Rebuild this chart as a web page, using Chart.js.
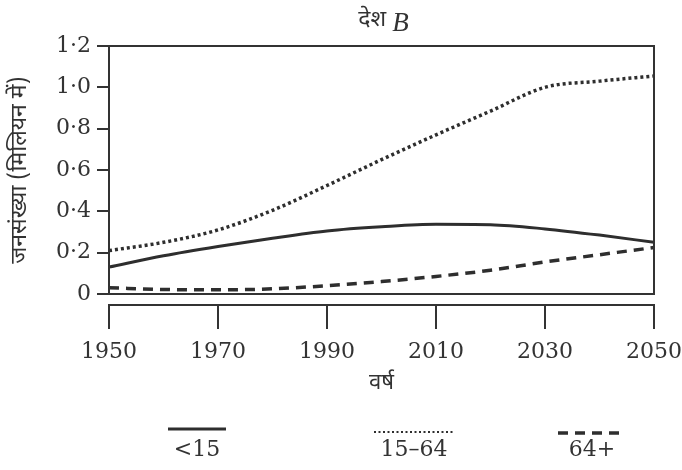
<!DOCTYPE html>
<html>
<head>
<meta charset="utf-8">
<script src="https://cdn.jsdelivr.net/npm/chart.js@4/dist/chart.umd.min.js"></script>
<style>
  html, body { margin: 0; padding: 0; background: #ffffff; }
  #wrap { width: 682px; height: 470px; position: relative; }
</style>
</head>
<body>
<div id="wrap"><canvas id="c"></canvas></div>
<script>
// ---- data ----
const years = [1950, 1960, 1970, 1980, 1990, 2000, 2010, 2020, 2030, 2040, 2050];
const under15 = [0.13, 0.185, 0.23, 0.27, 0.305, 0.325, 0.337, 0.335, 0.315, 0.285, 0.25];
const age15to64 = [0.21, 0.25, 0.31, 0.405, 0.525, 0.65, 0.77, 0.885, 1.0, 1.03, 1.055];
const age64plus = [0.03, 0.022, 0.02, 0.025, 0.04, 0.06, 0.085, 0.115, 0.155, 0.19, 0.225];
const seriesNames = ['<15', '15–64', '64+'];
const xTickValues = [1950, 1970, 1990, 2010, 2030, 2050];
const yTickLabels = ['0', '0·2', '0·4', '0·6', '0·8', '1·0', '1·2'];
const titleMain = 'देश';
const titleLetter = 'B';
const yTitle = 'जनसंख्या (मिलियन में)';
const xTitle = 'वर्ष';

const INK = '#333333';
const DEV = "'Noto Sans Devanagari', 'Noto Sans', 'FreeSans', sans-serif";
const SERIF = "'DejaVu Serif', serif";

function pts(vals) { return years.map((y, i) => ({ x: y, y: vals[i] })); }

const decor = {
  id: 'decor',
  afterDraw(chart) {
    const ctx = chart.ctx;
    const a = chart.chartArea;
    const xs = chart.scales.x;
    ctx.save();
    // plot frame
    ctx.strokeStyle = INK;
    ctx.lineWidth = 2;
    ctx.strokeRect(a.left, a.top, a.right - a.left, a.bottom - a.top);
    // detached x-axis bracket
    const y0 = a.bottom + 11;
    ctx.beginPath();
    ctx.moveTo(xs.getPixelForValue(xTickValues[0]) - 1, y0);
    ctx.lineTo(xs.getPixelForValue(xTickValues[xTickValues.length - 1]) + 1, y0);
    xTickValues.forEach(v => {
      const px = xs.getPixelForValue(v);
      ctx.moveTo(px, y0);
      ctx.lineTo(px, y0 + 24);
    });
    ctx.stroke();
    // title
    ctx.fillStyle = INK;
    ctx.textBaseline = 'middle';
    const fDev = "23px " + DEV;
    const fB = "italic 27px 'Liberation Serif', serif";
    ctx.font = fDev;
    const w1 = ctx.measureText(titleMain + ' ').width;
    ctx.font = fB;
    const w2 = ctx.measureText(titleLetter).width;
    const cx = (a.left + a.right) / 2 + 2;
    let sx = cx - (w1 + w2) / 2;
    ctx.textAlign = 'left';
    ctx.font = fDev;
    ctx.fillText(titleMain + ' ', sx, 22);
    ctx.font = fB;
    ctx.fillText(titleLetter, sx + w1, 24);
    // legend
    const items = [
      { cx: 197, ly: 429, len: 58 },
      { cx: 414, ly: 432, len: 80 },
      { cx: 592, ly: 433, len: 68 }
    ];
    chart.data.datasets.forEach((ds, i) => {
      const it = items[i];
      ctx.beginPath();
      ctx.strokeStyle = ds.borderColor;
      ctx.lineWidth = i === 1 ? 2 : ds.borderWidth;
      ctx.setLineDash(i === 1 ? [2, 2.5] : (ds.borderDash || []));
      ctx.moveTo(it.cx - it.len / 2, it.ly);
      ctx.lineTo(it.cx + it.len / 2, it.ly);
      ctx.stroke();
      ctx.setLineDash([]);
      ctx.fillStyle = INK;
      ctx.textAlign = 'center';
      ctx.font = "22px " + SERIF;
      ctx.fillText(ds.label, it.cx, 450);
    });
    ctx.restore();
  }
};

new Chart(document.getElementById('c'), {
  type: 'line',
  data: {
    datasets: [
      { label: seriesNames[0], data: pts(under15), borderColor: '#2e2e2e', borderWidth: 3, pointRadius: 0, cubicInterpolationMode: 'monotone', fill: false },
      { label: seriesNames[1], data: pts(age15to64), borderColor: '#2e2e2e', borderWidth: 3.5, borderDash: [3, 3], pointRadius: 0, cubicInterpolationMode: 'monotone', fill: false },
      { label: seriesNames[2], data: pts(age64plus), borderColor: '#2e2e2e', borderWidth: 3.5, borderDash: [10, 7], pointRadius: 0, cubicInterpolationMode: 'monotone', fill: false }
    ]
  },
  options: {
    responsive: true,
    maintainAspectRatio: false,
    animation: false,
    events: [],
    layout: { padding: { left: 0, right: 28, top: 46, bottom: 72 } },
    plugins: { legend: { display: false }, tooltip: { enabled: false }, title: { display: false } },
    scales: {
      x: {
        type: 'linear',
        min: 1950,
        max: 2050,
        afterBuildTicks: (s) => { s.ticks = xTickValues.map(v => ({ value: v })); },
        grid: { display: false, drawTicks: false },
        border: { display: false },
        ticks: { color: INK, padding: 45, maxRotation: 0, autoSkip: false, font: { family: SERIF, size: 22 }, callback: (v) => String(v) },
        title: { display: true, text: xTitle, color: INK, font: { family: DEV, size: 22 }, padding: { top: 0, bottom: 0 } },
        afterFit: (s) => { s.height = 104; s.paddingLeft = 0; s.paddingRight = 0; }
      },
      y: {
        min: 0,
        max: 1.2,
        ticks: { stepSize: 0.2, color: INK, padding: 6, font: { family: SERIF, size: 22 },
          callback: (v) => yTickLabels[Math.round(v / 0.2)] },
        grid: { drawOnChartArea: false, drawTicks: true, tickLength: 12, color: INK, lineWidth: 2 },
        border: { display: true, color: INK, width: 2 },
        title: { display: true, text: yTitle, color: INK, font: { family: DEV, size: 23 }, padding: { top: 8, bottom: 0 } },
        afterFit: (s) => { s.width = 109; }
      }
    }
  },
  plugins: [decor]
});
</script>
</body>
</html>
